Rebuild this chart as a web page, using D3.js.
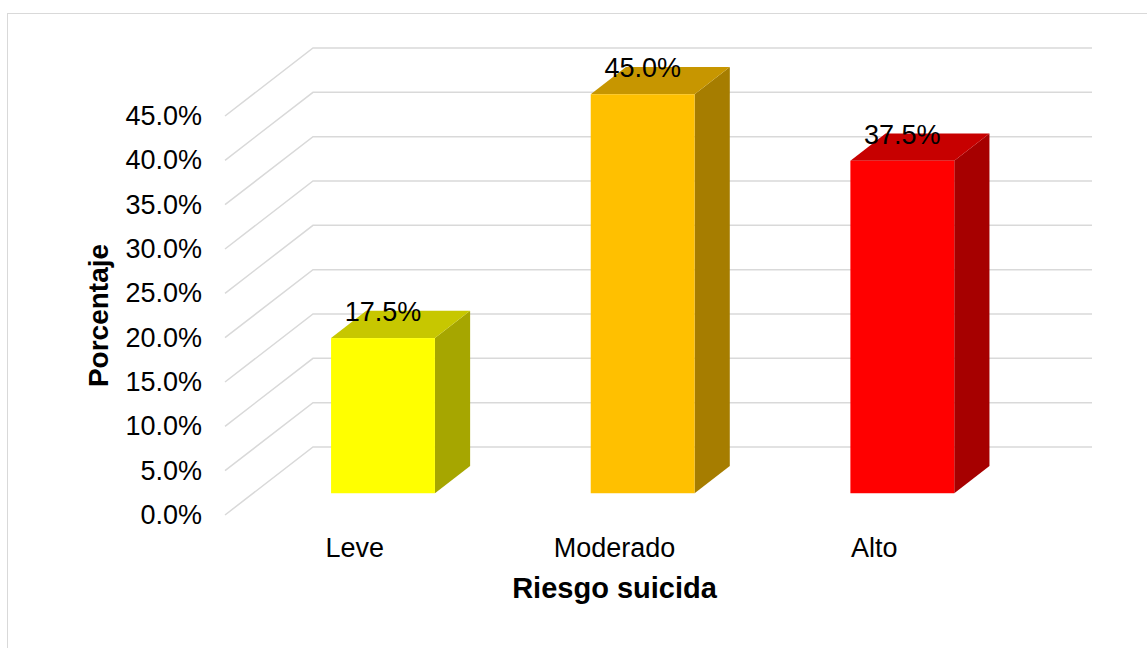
<!DOCTYPE html>
<html>
<head>
<meta charset="utf-8">
<script src="https://cdn.jsdelivr.net/npm/d3@7"></script>
<style>
  body { margin: 0; background: #fff; }
  svg { display: block; font-family: "Liberation Sans", Arial, sans-serif; }
</style>
</head>
<body>
<svg width="1147" height="648"></svg>
<script>
var categories = ["Leve", "Moderado", "Alto"];
var values = [17.5, 45.0, 37.5];
var barColors = ["#FFFF00", "#FFC000", "#FF0000"];
var yTicks = [0, 5, 10, 15, 20, 25, 30, 35, 40, 45];
var xTitle = "Riesgo suicida",
    yTitle = "Porcentaje";

var svg = d3.select("svg");

// front edge of the floor / side wall, and the depth vector of the 3d box
var front = {left: 225, right: 1004, bottom: 515, top: 116},
    depth = {dx: 88, dy: -68},
    f1 = 0.32, f2 = 0.72;   // bar front / back as fraction of depth

var x = d3.scaleBand().domain(categories).range([front.left, front.right])
    .paddingInner(0.6).paddingOuter(0.3);
var y = d3.scaleLinear().domain([0, 45]).range([front.bottom, front.top]);

// outer frame
svg.append("rect")
    .attr("x", 7.5).attr("y", 13.5)
    .attr("width", 1300).attr("height", 800)
    .attr("fill", "none").attr("stroke", "#d9d9d9").attr("stroke-width", 1);

// gridlines: side wall diagonal + back wall horizontal
svg.append("g").selectAll("path")
    .data(yTicks)
    .enter().append("path")
    .attr("fill", "none")
    .attr("stroke", "#d9d9d9")
    .attr("stroke-width", 1.5)
    .attr("d", function(t) {
      var yy = y(t);
      return "M" + front.left + "," + yy +
             "L" + (front.left + depth.dx) + "," + (yy + depth.dy) +
             "L" + (front.right + depth.dx) + "," + (yy + depth.dy);
    });

// bars
var bdx = (f2 - f1) * depth.dx, bdy = (f2 - f1) * depth.dy;
var bars = svg.append("g").selectAll("g")
    .data(categories.map(function(c, i) { return {cat: c, value: values[i], color: barColors[i]}; }))
    .enter().append("g")
    .each(function(d) {
      var g = d3.select(this);
      var w = x.bandwidth();
      var x0 = x(d.cat) + f1 * depth.dx;
      var yb = front.bottom + f1 * depth.dy;
      var h = front.bottom - y(d.value);
      var yt = yb - h;
      var c = d3.rgb(d.color);
      function shade(k) { return d3.rgb(c.r * k, c.g * k, c.b * k); }

      g.append("polygon")
          .attr("points", [[x0 + w, yt], [x0 + w + bdx, yt + bdy], [x0 + w + bdx, yb + bdy], [x0 + w, yb]].join(" "))
          .attr("fill", shade(0.65));
      g.append("polygon")
          .attr("points", [[x0, yt], [x0 + w, yt], [x0 + w + bdx, yt + bdy], [x0 + bdx, yt + bdy]].join(" "))
          .attr("fill", shade(0.78));
      g.append("rect")
          .attr("x", x0).attr("y", yt)
          .attr("width", w).attr("height", h)
          .attr("fill", d.color);

      g.append("text")
          .attr("x", x0 + w / 2)
          .attr("y", yt - 17)
          .attr("text-anchor", "middle")
          .attr("font-size", 27)
          .attr("fill", "#000")
          .text(d.value.toFixed(1) + "%");
    });

// y axis labels
var yAxis = d3.axisLeft(y).tickValues(yTicks).tickSize(0).tickPadding(23)
    .tickFormat(function(d) { return d.toFixed(1) + "%"; });
svg.append("g")
    .attr("transform", "translate(" + front.left + ",0)")
    .call(yAxis)
    .call(function(g) { g.select(".domain").remove(); })
    .selectAll("text")
    .attr("font-size", 27)
    .attr("font-family", "Liberation Sans, Arial, sans-serif")
    .attr("fill", "#000");

// x axis labels
var xAxis = d3.axisBottom(x).tickSize(0).tickPadding(23);
svg.append("g")
    .attr("transform", "translate(0," + front.bottom + ")")
    .call(xAxis)
    .call(function(g) { g.select(".domain").remove(); })
    .selectAll("text")
    .attr("font-size", 27)
    .attr("font-family", "Liberation Sans, Arial, sans-serif")
    .attr("fill", "#000");

// axis titles
svg.append("text")
    .attr("x", (front.left + front.right) / 2)
    .attr("y", 598)
    .attr("text-anchor", "middle")
    .attr("font-size", 29)
    .attr("font-weight", "bold")
    .text(xTitle);

svg.append("text")
    .attr("transform", "translate(108," + (front.bottom + front.top) / 2 + ") rotate(-90)")
    .attr("text-anchor", "middle")
    .attr("font-size", 28)
    .attr("font-weight", "bold")
    .text(yTitle);
</script>
</body>
</html>
